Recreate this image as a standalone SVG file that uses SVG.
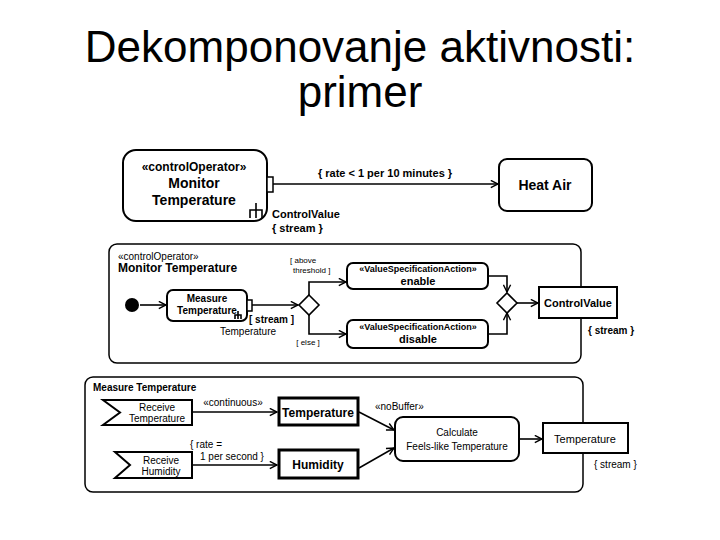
<svg xmlns="http://www.w3.org/2000/svg" width="720" height="540" viewBox="0 0 720 540">
<defs>
<marker id="arr" viewBox="0 0 10 10" refX="9" refY="5" markerWidth="9" markerHeight="9" markerUnits="userSpaceOnUse" orient="auto"><path d="M1,1 L9,5 L1,9" fill="none" stroke="#000" stroke-width="1.6"/></marker>
</defs>
<style>
.t{font-family:"Liberation Sans",Arial,sans-serif;fill:#000}
.b{font-weight:bold}
.box{fill:#fff;stroke:#000;stroke-width:2}
.thick{fill:#fff;stroke:#000;stroke-width:3}
.frame{fill:none;stroke:#000;stroke-width:1.5}
.ln{fill:none;stroke:#000;stroke-width:1.6}
.c{text-anchor:middle}
</style>
<rect width="720" height="540" fill="#fff"/>
<g id="title">
<text class="t c" x="360" y="62" font-size="44">Dekomponovanje aktivnosti:</text>
<text class="t c" x="360" y="107" font-size="44">primer</text>
</g>
<g id="frame-monitor"><rect class="frame" x="109" y="244" width="472" height="119" rx="8"/>
<text class="t" x="118" y="260" font-size="10">«controlOperator»</text>
<text class="t b" x="118" y="272" font-size="12">Monitor Temperature</text></g>
<g id="frame-measure"><rect class="frame" x="85" y="377" width="498" height="115" rx="8"/>
<text class="t b" x="93" y="391" font-size="10">Measure Temperature</text></g>
<g id="connectors">
<path class="ln" d="M273 184 H498" marker-end="url(#arr)"/>
<path class="ln" d="M140 305 H166" marker-end="url(#arr)"/>
<path class="ln" d="M252 305 H298" marker-end="url(#arr)"/>
<path class="ln" d="M309 295 V282 H346" marker-end="url(#arr)"/>
<path class="ln" d="M309 315 V334 H346" marker-end="url(#arr)"/>
<path class="ln" d="M488 276 H507 V292" marker-end="url(#arr)"/>
<path class="ln" d="M488 334 H507 V313" marker-end="url(#arr)"/>
<path class="ln" d="M517 303 H538" marker-end="url(#arr)"/>
<path class="ln" d="M192 412 H277" marker-end="url(#arr)"/>
<path class="ln" d="M192 465 H277" marker-end="url(#arr)"/>
<path class="ln" d="M359 412 L394 430" marker-end="url(#arr)"/>
<path class="ln" d="M359 468 L394 448" marker-end="url(#arr)"/>
<path class="ln" d="M519 439 H542" marker-end="url(#arr)"/>
<text class="t b c" x="385" y="177" font-size="11">{ rate &lt; 1 per 10 minutes }</text>
<text class="t" x="290" y="263" font-size="8">[ above</text>
<text class="t" x="293" y="273" font-size="8">threshold ]</text>
<text class="t c" x="308" y="345" font-size="8">[ else ]</text>
<text class="t c" x="233" y="406" font-size="10">«continuous»</text>
<text class="t" x="190" y="448" font-size="10">{ rate =</text>
<text class="t" x="200" y="460" font-size="10">1 per second }</text>
<text class="t" x="375" y="410" font-size="10">«noBuffer»</text>
</g>
<g id="monitor-temperature">
<rect class="box" x="123" y="150" width="144" height="71" rx="13"/>
<text class="t b c" x="194" y="171" font-size="12">«controlOperator»</text>
<text class="t b c" x="194" y="188" font-size="14">Monitor</text>
<text class="t b c" x="194" y="205" font-size="14">Temperature</text>
<rect x="267" y="177" width="6" height="15" fill="#fff" stroke="#000" stroke-width="1.5"/>
<path class="ln" d="M256 203 V218 M250 218 V210 H262 V218" stroke-width="2"/>
<text class="t b" x="272" y="218" font-size="11">ControlValue</text>
<text class="t b" x="272" y="232" font-size="11">{ stream }</text>
</g>
<g id="heat-air">
<rect class="box" x="499" y="159" width="93" height="52" rx="8"/>
<text class="t b c" x="545" y="190" font-size="14">Heat Air</text>
</g>
<g id="initial"><circle cx="132" cy="305" r="7" fill="#000"/></g>
<g id="measure-temperature">
<rect class="box" x="167" y="290" width="80" height="31" rx="6"/>
<text class="t b c" x="207" y="302" font-size="10">Measure</text>
<text class="t b c" x="207" y="314" font-size="10">Temperature</text>
<rect x="247" y="300" width="5" height="11" fill="#fff" stroke="#000" stroke-width="1.5"/>
<path class="ln" d="M238 311 V319 M235 319 V315 H241 V319" stroke-width="1.2"/>
<text class="t b" x="249" y="323" font-size="10">[ stream ]</text>
<text class="t c" x="248" y="335" font-size="10">Temperature</text>
</g>
<g id="decision"><path d="M309 295 L319 305 L309 315 L299 305 Z" fill="#fff" stroke="#000" stroke-width="1.6"/></g>
<g id="enable">
<rect class="box" x="347" y="263" width="141" height="26" rx="6"/>
<text class="t b c" x="418" y="272" font-size="9">«ValueSpecificationAction»</text>
<text class="t b c" x="418" y="285" font-size="11">enable</text>
</g>
<g id="disable">
<rect class="box" x="347" y="320" width="141" height="28" rx="6"/>
<text class="t b c" x="418" y="330" font-size="9">«ValueSpecificationAction»</text>
<text class="t b c" x="418" y="343" font-size="11">disable</text>
</g>
<g id="merge"><path d="M507 293 L517 303 L507 313 L497 303 Z" fill="#fff" stroke="#000" stroke-width="1.6"/></g>
<g id="control-value">
<rect class="box" x="539" y="287" width="78" height="31"/>
<text class="t b c" x="578" y="307" font-size="11">ControlValue</text>
<text class="t b" x="588" y="334" font-size="10">{ stream }</text>
</g>
<g id="receive-temperature">
<path class="box" stroke-width="1.5" d="M103 400 H192 V425 H103 L120 412.5 Z"/>
<text class="t c" x="157" y="411" font-size="10">Receive</text>
<text class="t c" x="157" y="422" font-size="10">Temperature</text>
</g>
<g id="temperature">
<rect class="thick" x="279" y="398" width="79" height="27"/>
<text class="t b c" x="318" y="417" font-size="12">Temperature</text>
</g>
<g id="receive-humidity">
<path class="box" stroke-width="1.5" d="M115 452 H192 V478 H115 L130 465 Z"/>
<text class="t c" x="161" y="464" font-size="10">Receive</text>
<text class="t c" x="161" y="475" font-size="10">Humidity</text>
</g>
<g id="humidity">
<rect class="thick" x="279" y="450" width="79" height="28"/>
<text class="t b c" x="318" y="469" font-size="12">Humidity</text>
</g>
<g id="calculate">
<rect class="box" x="395" y="417" width="124" height="44" rx="8"/>
<text class="t c" x="457" y="436" font-size="10">Calculate</text>
<text class="t c" x="457" y="450" font-size="10">Feels-like Temperature</text>
</g>
<g id="temperature-out">
<rect class="box" x="543" y="423" width="85" height="30"/>
<text class="t c" x="585" y="443" font-size="11">Temperature</text>
<text class="t" x="594" y="468" font-size="10">{ stream }</text>
</g>
</svg>
